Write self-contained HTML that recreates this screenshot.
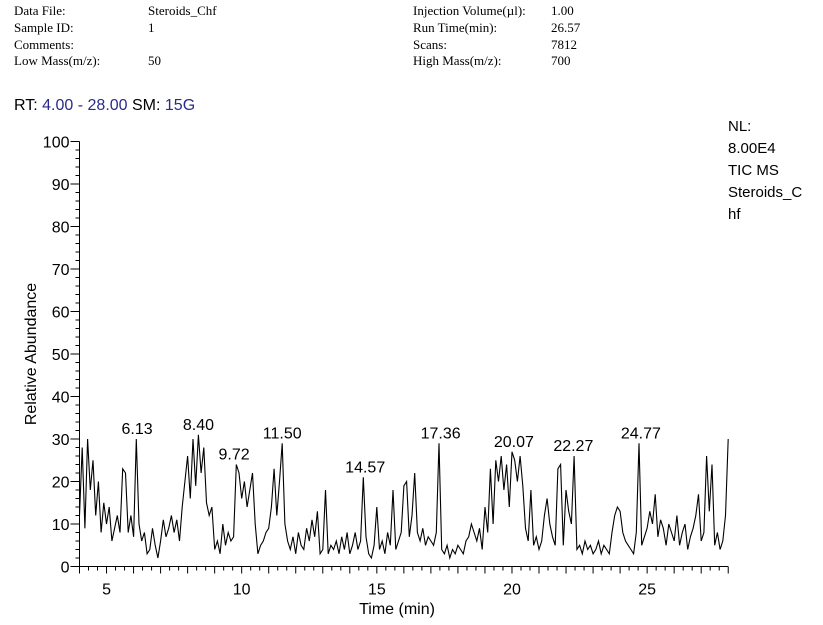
<!DOCTYPE html>
<html><head><meta charset="utf-8"><style>
body{margin:0;background:#fff;width:823px;height:625px;overflow:hidden}
svg{display:block}
.h{font-family:"Liberation Serif",serif;font-size:13px;fill:#000}
.s{font-family:"Liberation Sans",sans-serif;fill:#000}
.b{fill:#2a2a8a}
</style></head><body>
<svg width="823" height="625">
<g>
<text class="h" x="14" y="15">Data File:</text><text class="h" x="148" y="15">Steroids_Chf</text>
<text class="h" x="14" y="32">Sample ID:</text><text class="h" x="148" y="32">1</text>
<text class="h" x="14" y="49">Comments:</text>
<text class="h" x="14" y="65">Low Mass(m/z):</text><text class="h" x="148" y="65">50</text>
<text class="h" x="413" y="15">Injection Volume(µl):</text><text class="h" x="551" y="15">1.00</text>
<text class="h" x="413" y="32">Run Time(min):</text><text class="h" x="551" y="32">26.57</text>
<text class="h" x="413" y="49">Scans:</text><text class="h" x="551" y="49">7812</text>
<text class="h" x="413" y="65">High Mass(m/z):</text><text class="h" x="551" y="65">700</text>
</g>
<text class="s" x="14" y="110" font-size="16">RT: <tspan class="b">4.00 - 28.00</tspan>   SM: <tspan class="b">15G</tspan></text>
<g class="s" font-size="15">
<text x="728" y="131">NL:</text><text x="728" y="153">8.00E4</text>
<text x="728" y="175">TIC  MS</text><text x="728" y="197">Steroids_C</text><text x="728" y="219">hf</text>
</g>
<text class="s" font-size="16" transform="translate(36,354) rotate(-90)" text-anchor="middle">Relative Abundance</text>
<text class="s" font-size="16" x="397" y="614" text-anchor="middle">Time (min)</text>
<g id="axes"></g>
<path id="trace" fill="none" stroke="#000" stroke-width="1.1"/>
<g id="labels"></g>
</svg>
<script>
const t0 = 4.0, tStep = 0.1;
const values = [
12,28,9,30,18,25,12,20,8,15,
10,14,6,9,12,8,23,22,8,12,
7,30,10,6,8,3,4,9,5,2,
6,11,7,9,12,8,11,6,14,20,
26,16,30,19,31,22,28,15,12,14,
4,6,3,10,5,8,6,7,24,22,
16,20,14,18,22,10,3,5,6,8,
9,14,23,12,20,29,10,6,4,7,
3,8,5,4,9,6,11,7,13,3,
4,18,3,5,4,6,3,7,4,8,
3,5,8,4,6,21,7,3,2,5,
14,4,6,3,8,5,18,4,6,8,
19,20,7,12,22,8,6,9,5,7,
6,5,8,29,4,3,5,2,4,3,
5,4,3,6,7,10,8,6,9,4,
14,8,23,10,25,20,26,18,24,14,
27,25,20,26,19,9,6,18,5,7,
4,6,12,16,10,7,5,23,24,5,
18,13,10,26,4,5,3,6,4,5,
3,4,6,3,5,4,3,8,12,14,
13,8,6,5,4,3,8,29,5,7,
9,13,10,17,7,11,9,5,10,8,
6,12,5,8,10,4,7,9,12,17,
6,8,26,13,24,5,8,4,6,12,
30];
const peakTimes = [6.13,8.40,9.72,11.50,14.57,17.36,20.07,22.27,24.77];
const peakHeights = [30,31,24,29,21,29,27,26,29];
const yTicks = [0,10,20,30,40,50,60,70,80,90,100];
const xTicks = [5,10,15,20,25];
const NS="http://www.w3.org/2000/svg";
const X=t=>79.5+(t-4)*27.03, Y=v=>566.5-v*4.25;
const ax=document.getElementById('axes');
function ln(x1,y1,x2,y2){const l=document.createElementNS(NS,'line');l.setAttribute('x1',x1);l.setAttribute('y1',y1);l.setAttribute('x2',x2);l.setAttribute('y2',y2);l.setAttribute('stroke','#000');l.setAttribute('stroke-width','1');ax.appendChild(l);return l;}
function tx(x,y,s,a,fs){const e=document.createElementNS(NS,'text');e.setAttribute('x',x);e.setAttribute('y',y);e.setAttribute('text-anchor',a);e.setAttribute('font-size',fs);e.setAttribute('class','s');e.textContent=s;return e;}
const yAxis=ln(X(4),Y(100),X(4),Y(0));


const xAxis=ln(X(4),Y(0),X(28),Y(0));


for(let v=0;v<=100;v+=2){const l=ln(X(4)-(v%10?4:9),Y(v),X(4),Y(v));}
for(const v of yTicks){const e=tx(X(4)-10,Y(v)+6,String(v),'end',16);


ax.appendChild(e);}
for(let i=0;i<=72;i++){const t=4+i/3;const maj=i%3===0;ln(X(t),Y(0),X(t),Y(0)+(maj?7:4));}
for(const t of xTicks){const e=tx(X(t),Y(0)+28,String(t),'middle',16);


ax.appendChild(e);}
let d='';values.forEach((v,i)=>{d+=(i?'L':'M')+X(t0+i*tStep).toFixed(1)+' '+Y(v).toFixed(1);});
document.getElementById('trace').setAttribute('d',d);
const lg=document.getElementById('labels');
peakTimes.forEach((t,i)=>{const e=tx(X(t),Y(peakHeights[i])-5,t.toFixed(2),'middle',16);


lg.appendChild(e);});
</script>
</body></html>
